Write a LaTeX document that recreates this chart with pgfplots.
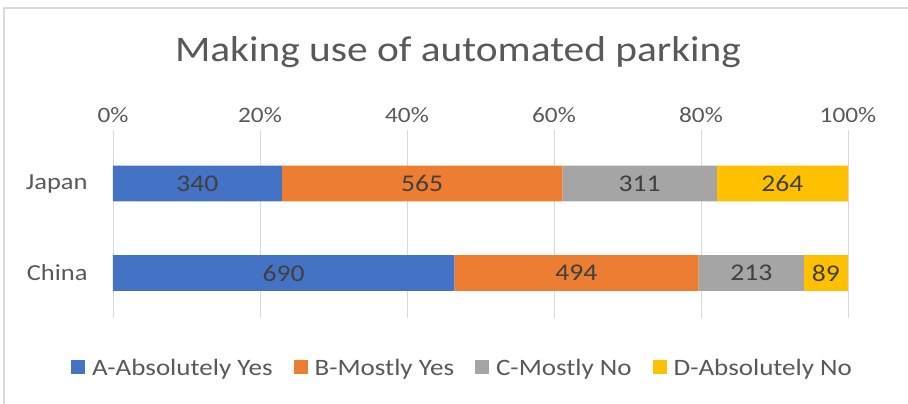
\documentclass[border=0pt]{standalone}
\usepackage{fontspec}
\setmainfont{Carlito}[FakeStretch=1.15]
\usepackage{pgfplots}
\pgfplotsset{compat=1.18}
\usepackage{pgfplotstable}
\definecolor{cA}{HTML}{4472C4}
\definecolor{cB}{HTML}{ED7D31}
\definecolor{cC}{HTML}{A5A5A5}
\definecolor{cD}{HTML}{FFC000}
\definecolor{txt}{HTML}{595959}
\definecolor{lbl}{HTML}{404040}
\definecolor{grd}{HTML}{D9D9D9}
% y: 1 = Japan, 0 = China; pct = share of row total, n = count
\pgfplotstableread{
y pct n
1 22.97 340
0 46.43 690
}\seriesA
\pgfplotstableread{
y pct n
1 38.18 565
0 33.24 494
}\seriesB
\pgfplotstableread{
y pct n
1 21.01 311
0 14.33 213
}\seriesC
\pgfplotstableread{
y pct n
1 17.84 264
0 5.99 89
}\seriesD
% data labels: centre of each segment (percent) and the count shown
\pgfplotstableread{
y xc n
1 11.49 340
1 42.06 565
1 71.66 311
1 91.08 264
0 23.22 690
0 63.05 494
0 86.84 213
0 97.00 89
}\labels
\pgfplotsset{chartgeom/.style={
  at={(113pt,86pt)}, anchor=south west,
  scale only axis, width=735pt, height=188pt,
  xmin=0, xmax=100, ymin=-0.503, ymax=1.598,
  /pgf/number format/assume math mode=true}}
\begin{document}
\begin{tikzpicture}[x=1pt,y=1pt]
\useasboundingbox (0,0) rectangle (908,404);
\draw[grd, line width=1.5pt] (4,0) -- (4,396) -- (908,396);
\node[text=txt, font=\fontsize{36}{40}\selectfont] at (458,352) {Making use of automated parking};
\begin{axis}[
  chartgeom,
  xbar stacked, bar width=0.4,
  axis line style={draw=none},
  major tick style={draw=none},
  xmajorgrids, grid style={grd, line width=0.8pt},
  xtick={0,20,40,60,80,100},
  xticklabel pos=upper,
  xticklabel={\pgfmathprintnumber{\tick}\%},
  xticklabel style={text=txt, font=\fontsize{22}{26}\selectfont, yshift=4pt},
  ytick={0,1}, yticklabels={China,Japan},
  yticklabel style={text=txt, font=\fontsize{23}{26}\selectfont, xshift=-22pt},
  legend columns=4,
  legend style={at={(0.4755,-0.266)}, anchor=center, draw=none,
     font=\fontsize{23.5}{26}\selectfont, text=txt,
     /tikz/every odd column/.append style={column sep=5pt},
     /tikz/every even column/.append style={column sep=19pt}},
  legend image code/.code={\fill[#1,draw=none] (0pt,-6pt) rectangle (14pt,8pt);},
]
\addplot[fill=cA, draw=none] table[x=pct, y=y] {\seriesA};
\addplot[fill=cB, draw=none] table[x=pct, y=y] {\seriesB};
\addplot[fill=cC, draw=none] table[x=pct, y=y] {\seriesC};
\addplot[fill=cD, draw=none] table[x=pct, y=y] {\seriesD};
\legend{A-Absolutely Yes, B-Mostly Yes, C-Mostly No, D-Absolutely No}
\end{axis}
\begin{axis}[chartgeom, hide axis]
\addplot[draw=none, mark=none, nodes near coords, point meta=explicit,
  every node near coord/.append style={anchor=center, text=lbl,
     font=\fontsize{24}{26}\selectfont}]
  table[x=xc, y=y, meta=n] {\labels};
\end{axis}
\end{tikzpicture}
\end{document}
